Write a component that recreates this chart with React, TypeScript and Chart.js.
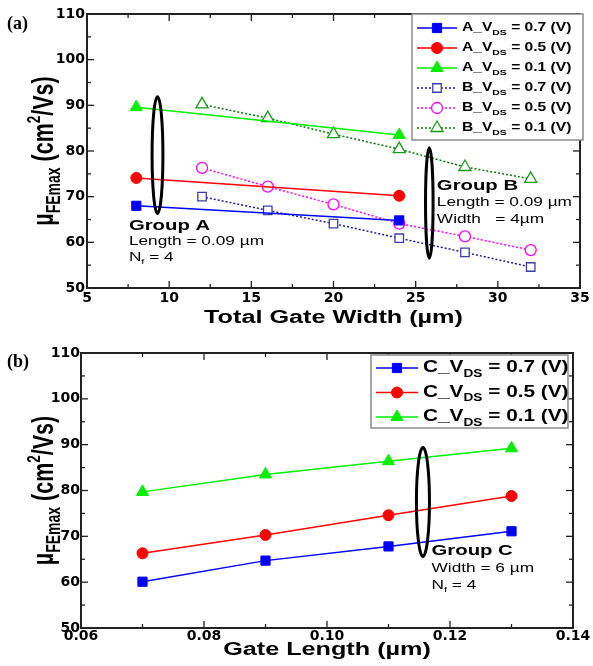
import React, { useEffect, useRef } from "react";
import { Chart, registerables } from "chart.js";
Chart.register(...registerables);

// ---------- data, panel (a) ----------
const widthA = [8, 24];
const muA07 = [68.0, 64.8];
const muA05 = [74.1, 70.2];
const muA01 = [89.6, 83.5];
const widthB = [12, 16, 20, 24, 28, 32];
const muB07 = [70.0, 67.0, 64.1, 60.9, 57.8, 54.6];
const muB05 = [76.3, 72.2, 68.3, 64.1, 61.3, 58.3];
const muB01 = [90.2, 87.2, 83.7, 80.4, 76.5, 73.9];
// ---------- data, panel (b) ----------
const lengthC = [0.07, 0.09, 0.11, 0.13];
const muC07 = [60.1, 64.7, 67.8, 71.1];
const muC05 = [66.3, 70.3, 74.6, 78.8];
const muC01 = [79.7, 83.5, 86.4, 89.2];
// ---------- ticks ----------
const yTickValues = [50, 60, 70, 80, 90, 100, 110];
const xTickValuesA = [5, 10, 15, 20, 25, 30, 35];
const xTickValuesB = [0.06, 0.08, 0.1, 0.12, 0.14];

const SANS = "'Liberation Sans', Arial, sans-serif";
const TICKFONT = "'DejaVu Sans', sans-serif";

type Marker = "rect" | "circle" | "triangle";
interface Series {
  xs: number[]; ys: number[]; pre: string; post: string;
  color: string; lineColor: string; filled: boolean; marker: Marker; radius: number; dotted: boolean;
}
interface Run { t: string; size: number; bold?: boolean; dy?: number; family?: string }

const seriesA: Series[] = [
  { xs: widthA, ys: muA07, pre: "A_V", post: " = 0.7 (V)", color: "#0000ff", lineColor: "#0000ff", filled: true, marker: "rect", radius: 6.5, dotted: false },
  { xs: widthA, ys: muA05, pre: "A_V", post: " = 0.5 (V)", color: "#ff0000", lineColor: "#ff0000", filled: true, marker: "circle", radius: 5.5, dotted: false },
  { xs: widthA, ys: muA01, pre: "A_V", post: " = 0.1 (V)", color: "#00ee00", lineColor: "#00ee00", filled: true, marker: "triangle", radius: 7, dotted: false },
  { xs: widthB, ys: muB07, pre: "B_V", post: " = 0.7 (V)", color: "#3d3da6", lineColor: "#1c1c99", filled: false, marker: "rect", radius: 6, dotted: true },
  { xs: widthB, ys: muB05, pre: "B_V", post: " = 0.5 (V)", color: "#ff00ff", lineColor: "#ff00ff", filled: false, marker: "circle", radius: 5.5, dotted: true },
  { xs: widthB, ys: muB01, pre: "B_V", post: " = 0.1 (V)", color: "#1a9a1a", lineColor: "#007a00", filled: false, marker: "triangle", radius: 7, dotted: true },
];
const seriesC: Series[] = [
  { xs: lengthC, ys: muC07, pre: "C_V", post: " = 0.7 (V)", color: "#0000ff", lineColor: "#0000ff", filled: true, marker: "rect", radius: 6.5, dotted: false },
  { xs: lengthC, ys: muC05, pre: "C_V", post: " = 0.5 (V)", color: "#ff0000", lineColor: "#ff0000", filled: true, marker: "circle", radius: 5.5, dotted: false },
  { xs: lengthC, ys: muC01, pre: "C_V", post: " = 0.1 (V)", color: "#00ee00", lineColor: "#00ee00", filled: true, marker: "triangle", radius: 7, dotted: false },
];

function fontOf(r: Run) {
  return `${r.bold ? "bold " : ""}${r.size}px ${r.family || SANS}`;
}
function drawRuns(ctx: CanvasRenderingContext2D, runs: Run[], x: number, y: number, sx: number, align: "left" | "center", baseline: CanvasTextBaseline = "middle") {
  let total = 0;
  for (const r of runs) { ctx.font = fontOf(r); total += ctx.measureText(r.t).width * sx; }
  let cx = align === "center" ? x - total / 2 : x;
  for (const r of runs) {
    ctx.save();
    ctx.font = fontOf(r);
    ctx.textBaseline = baseline;
    ctx.textAlign = "left";
    ctx.fillStyle = "#000";
    ctx.translate(cx, y + (r.dy || 0));
    ctx.scale(sx, 1);
    ctx.fillText(r.t, 0, 0);
    const w = ctx.measureText(r.t).width * sx;
    ctx.restore();
    cx += w;
  }
}
function drawMarker(ctx: CanvasRenderingContext2D, s: Series, x: number, y: number) {
  const r = s.radius;
  ctx.save();
  ctx.beginPath();
  if (s.marker === "rect") {
    const h = r * Math.SQRT1_2;
    ctx.rect(x - h, y - h, 2 * h, 2 * h);
  } else if (s.marker === "circle") {
    ctx.arc(x, y, r, 0, Math.PI * 2);
  } else {
    ctx.moveTo(x, y - r);
    ctx.lineTo(x + r * 0.866, y + r * 0.5);
    ctx.lineTo(x - r * 0.866, y + r * 0.5);
    ctx.closePath();
  }
  ctx.fillStyle = s.filled ? s.color : "#fff";
  ctx.fill();
  ctx.strokeStyle = s.color;
  ctx.lineWidth = s.filled ? 1 : 1.3;
  ctx.stroke();
  ctx.restore();
}

interface Note { x: number; y: number; step: number; lines: Run[][] }
interface Ell { x: number; y: number; rx: number; ry: number }
interface Panel {
  series: Series[]; xMin: number; xMax: number; xTicks: number[]; fmt: (v: number) => string;
  padTop: number; padRight: number; yWidth: number; xHeight: number; xTickPad: number; yTickPad: number;
  label: string; labelY: number; yTitleX: number; xTitle: string; xTitleY: number;
  legend: { right: number; top: number; w: number; h: number; row0: number; step: number; sample: number; size: number; sub: number };
  ellipses: Ell[]; notes: Note[];
}

const SX = 1.4;

const groupA: Note = {
  x: 7.55, y: 63.5, step: 15.5,
  lines: [
    [{ t: "Group A", size: 14, bold: true }],
    [{ t: "Length = 0.09 µm", size: 12.5 }],
    [{ t: "N", size: 12.5 }, { t: "f", size: 8, dy: 4 }, { t: " = 4", size: 12.5 }],
  ],
};
const groupB: Note = {
  x: 26.29, y: 72.4, step: 17,
  lines: [
    [{ t: "Group B", size: 14, bold: true }],
    [{ t: "Length = 0.09 µm", size: 12.5 }],
    [{ t: "Width   = 4µm", size: 12.5 }],
  ],
};
const groupC: Note = {
  x: 0.117, y: 66.7, step: 17,
  lines: [
    [{ t: "Group C", size: 14, bold: true }],
    [{ t: "Width = 6 µm", size: 12.5 }],
    [{ t: "N", size: 12.5 }, { t: "f", size: 8, dy: 4 }, { t: " = 4", size: 12.5 }],
  ],
};

const panelA: Panel = {
  series: seriesA, xMin: 5, xMax: 35, xTicks: xTickValuesA, fmt: (v) => String(v),
  padTop: 14, padRight: 13, yWidth: 87, xHeight: 45, xTickPad: 2, yTickPad: 2,
  label: "(a)", labelY: 24, yTitleX: 53, xTitle: "Total Gate Width (µm)", xTitleY: 318,
  legend: { right: 3, top: 0, w: 171, h: 126, row0: 14, step: 20, sample: 40, size: 12, sub: 8 },
  ellipses: [
    { x: 9.29, y: 79.1, rx: 0.33, ry: 12.8 },
    { x: 25.83, y: 68.6, rx: 0.23, ry: 12.1 },
  ],
  notes: [groupA, groupB],
};
const panelB: Panel = {
  series: seriesC, xMin: 0.06, xMax: 0.14, xTicks: xTickValuesB, fmt: (v) => v.toFixed(2),
  padTop: 20, padRight: 20, yWidth: 81, xHeight: 38, xTickPad: 0, yTickPad: 1,
  label: "(b)", labelY: 29, yTitleX: 53, xTitle: "Gate Length (µm)", xTitleY: 317,
  legend: { right: -5, top: 2, w: 197, h: 73, row0: 13, step: 24.5, sample: 42, size: 16, sub: 10.5 },
  ellipses: [{ x: 0.1156, y: 77.5, rx: 0.00106, ry: 11.9 }],
  notes: [groupC],
};

function midpoints(a: number[]) {
  const out: number[] = [];
  for (let i = 0; i < a.length - 1; i++) out.push((a[i] + a[i + 1]) / 2);
  return out;
}

function decorPlugin(p: Panel) {
  return {
    id: "decor",
    afterDraw(chart: any) {
      const ctx: CanvasRenderingContext2D = chart.ctx;
      const { left, right, top, bottom } = chart.chartArea;
      const xs = chart.scales.x, ys = chart.scales.y;
      ctx.save();
      // ellipses
      ctx.strokeStyle = "#000";
      ctx.lineWidth = 3;
      for (const e of p.ellipses) {
        const cx = xs.getPixelForValue(e.x), cy = ys.getPixelForValue(e.y);
        const rx = Math.abs(xs.getPixelForValue(e.x + e.rx) - cx);
        const ry = Math.abs(ys.getPixelForValue(e.y + e.ry) - cy);
        ctx.beginPath();
        ctx.ellipse(cx, cy, rx, ry, 0, 0, Math.PI * 2);
        ctx.stroke();
      }
      // notes
      for (const n of p.notes) {
        const x0 = xs.getPixelForValue(n.x), y0 = ys.getPixelForValue(n.y);
        n.lines.forEach((line, i) => drawRuns(ctx, line, x0, y0 + i * n.step, line[0].bold ? 1.45 : 1.38, "left"));
      }
      // frame & inward ticks
      ctx.strokeStyle = "#222";
      ctx.lineWidth = 1.3;
      const tick = (x1: number, y1: number, x2: number, y2: number) => { ctx.beginPath(); ctx.moveTo(x1, y1); ctx.lineTo(x2, y2); ctx.stroke(); };
      const xMinor = midpoints(p.xTicks), yMinor = midpoints(yTickValues);
      for (const v of p.xTicks) { const px = xs.getPixelForValue(v); tick(px, bottom, px, bottom - 7); tick(px, top, px, top + 7); }
      for (const v of xMinor) { const px = xs.getPixelForValue(v); tick(px, bottom, px, bottom - 4); tick(px, top, px, top + 4); }
      for (const v of yTickValues) { const py = ys.getPixelForValue(v); tick(left, py, left + 7, py); tick(right, py, right - 7, py); }
      for (const v of yMinor) { const py = ys.getPixelForValue(v); tick(left, py, left + 4, py); tick(right, py, right - 4, py); }
      ctx.lineWidth = 2;
      ctx.strokeRect(left, top, right - left, bottom - top);
      // legend
      const L = p.legend;
      const lx = right + L.right - L.w, ly = top + L.top;
      ctx.fillStyle = "#fff";
      ctx.fillRect(lx, ly, L.w, L.h);
      ctx.strokeStyle = "#8a8a8a";
      ctx.lineWidth = 1.5;
      ctx.strokeRect(lx, ly, L.w, L.h);
      p.series.forEach((s, i) => {
        const ry = ly + L.row0 + i * L.step;
        const sx0 = lx + 5;
        ctx.save();
        ctx.strokeStyle = s.lineColor;
        ctx.lineWidth = 1.5;
        ctx.setLineDash(s.dotted ? [2, 2] : []);
        ctx.beginPath(); ctx.moveTo(sx0, ry); ctx.lineTo(sx0 + L.sample, ry); ctx.stroke();
        ctx.restore();
        drawMarker(ctx, s, sx0 + L.sample / 2, ry);
        drawRuns(ctx, [
          { t: s.pre, size: L.size, bold: true },
          { t: "DS", size: L.sub, bold: true, dy: L.size * 0.38 },
          { t: s.post, size: L.size, bold: true },
        ], sx0 + L.sample + 5, ry, 1.3, "left");
      });
      // axis titles
      drawRuns(ctx, [{ t: p.xTitle, size: 18, bold: true }], (left + right) / 2, p.xTitleY, SX, "center");
      ctx.save();
      ctx.translate(p.yTitleX, (top + bottom) / 2);
      ctx.rotate(-Math.PI / 2);
      ctx.scale(1, 1.4);
      drawRuns(ctx, [
        { t: "µ", size: 21.5, bold: true },
        { t: "FEmax", size: 14, bold: true, dy: 5 },
        { t: " (cm", size: 21.5, bold: true },
        { t: "2", size: 13.5, bold: true, dy: -9 },
        { t: "/Vs)", size: 21.5, bold: true },
      ], 0, 0, 1, "center", "alphabetic");
      ctx.restore();
      // panel label
      drawRuns(ctx, [{ t: p.label, size: 18, bold: true, family: "'Liberation Serif', 'Times New Roman', serif" }], 7, p.labelY, 1, "left");
      ctx.restore();
    },
  };
}

function buildConfig(p: Panel): any {
  return {
    type: "line",
    data: {
      datasets: p.series.map((s) => ({
        label: `${s.pre}DS${s.post}`,
        data: s.xs.map((x, i) => ({ x, y: s.ys[i] })),
        borderColor: s.lineColor,
        backgroundColor: s.filled ? s.color : "#fff",
        pointBackgroundColor: s.filled ? s.color : "#fff",
        pointBorderColor: s.color,
        pointBorderWidth: s.filled ? 1 : 1.3,
        pointStyle: s.marker,
        pointRadius: s.radius,
        borderWidth: 1.5,
        borderDash: s.dotted ? [2, 2] : [],
        showLine: true,
        tension: 0,
        fill: false,
      })),
    },
    options: {
      responsive: false,
      maintainAspectRatio: false,
      animation: false,
      events: [],
      layout: { padding: { top: p.padTop, right: p.padRight, left: 0, bottom: 0 } },
      plugins: { legend: { display: false }, tooltip: { enabled: false }, title: { display: false } },
      scales: {
        x: {
          type: "linear", min: p.xMin, max: p.xMax,
          afterBuildTicks: (s: any) => { s.ticks = p.xTicks.map((v) => ({ value: v })); },
          afterFit: (s: any) => { s.height = p.xHeight; s.paddingLeft = 0; s.paddingRight = 0; },
          grid: { display: false, drawTicks: false },
          border: { display: false },
          ticks: {
            font: { family: TICKFONT, size: 14, weight: "bold" }, color: "#000",
            padding: p.xTickPad, maxRotation: 0, autoSkip: false,
            callback: (v: any) => p.fmt(Number(v)),
          },
        },
        y: {
          type: "linear", min: 50, max: 110,
          afterBuildTicks: (s: any) => { s.ticks = yTickValues.map((v) => ({ value: v })); },
          afterFit: (s: any) => { s.width = p.yWidth; s.paddingTop = 0; s.paddingBottom = 0; },
          grid: { display: false, drawTicks: false },
          border: { display: false },
          ticks: {
            font: { family: TICKFONT, size: 14, weight: "bold" }, color: "#000",
            padding: p.yTickPad, autoSkip: false,
            callback: (v: any) => String(v),
          },
        },
      },
    },
    plugins: [decorPlugin(p)],
  };
}

export default function App() {
  const refA = useRef<HTMLCanvasElement>(null);
  const refB = useRef<HTMLCanvasElement>(null);
  useEffect(() => {
    const c1 = new Chart(refA.current as HTMLCanvasElement, buildConfig(panelA));
    const c2 = new Chart(refB.current as HTMLCanvasElement, buildConfig(panelB));
    return () => { c1.destroy(); c2.destroy(); };
  }, []);
  return (
    <div style={{ position: "absolute", left: 0, top: 0, width: 593, height: 666, background: "#fff" }}>
      <canvas ref={refA} width={593} height={333} style={{ display: "block", width: 593, height: 333 }} />
      <canvas ref={refB} width={593} height={333} style={{ display: "block", width: 593, height: 333 }} />
    </div>
  );
}
